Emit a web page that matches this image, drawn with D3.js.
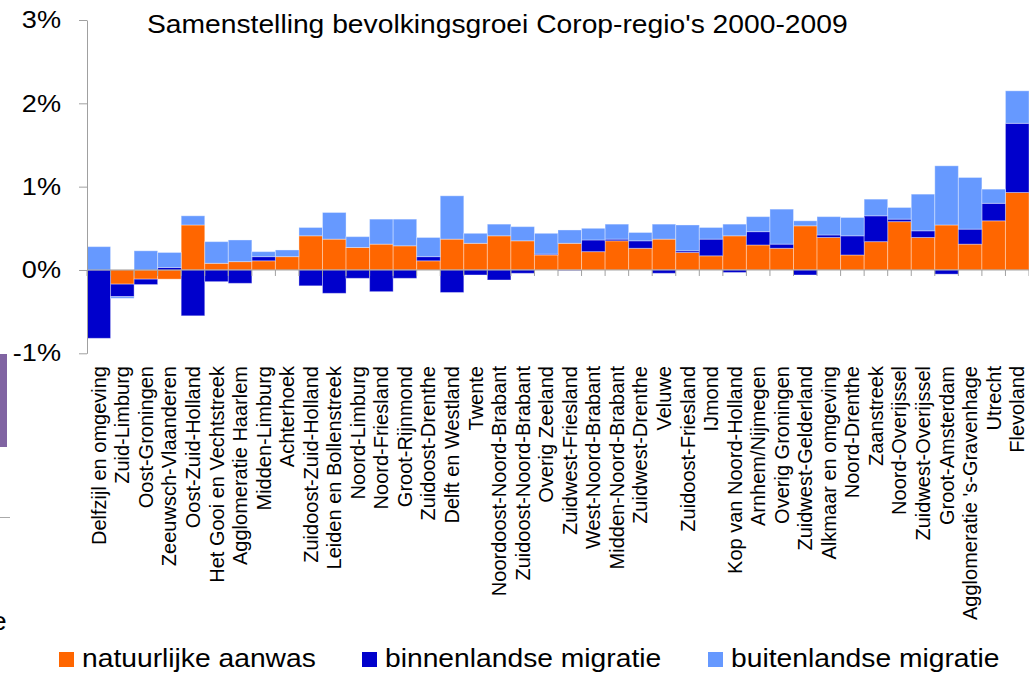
<!DOCTYPE html>
<html>
<head>
<meta charset="utf-8">
<script src="https://cdn.jsdelivr.net/npm/d3@7"></script>
<style>
  body { margin: 0; background: #fff; }
  svg { display: block; font-family: "Liberation Sans", Arial, sans-serif; }
  .axis path, .axis line { stroke: #a0a0a0; }
</style>
</head>
<body>
<div id="chart"></div>
<script>
const regions = [
  "Delfzijl en omgeving", "Zuid-Limburg", "Oost-Groningen", "Zeeuwsch-Vlaanderen",
  "Oost-Zuid-Holland", "Het Gooi en Vechtstreek", "Agglomeratie Haarlem", "Midden-Limburg",
  "Achterhoek", "Zuidoost-Zuid-Holland", "Leiden en Bollenstreek", "Noord-Limburg",
  "Noord-Friesland", "Groot-Rijnmond", "Zuidoost-Drenthe", "Delft en Westland",
  "Twente", "Noordoost-Noord-Brabant", "Zuidoost-Noord-Brabant", "Overig Zeeland",
  "Zuidwest-Friesland", "West-Noord-Brabant", "Midden-Noord-Brabant", "Zuidwest-Drenthe",
  "Veluwe", "Zuidoost-Friesland", "IJmond", "Kop van Noord-Holland",
  "Arnhem/Nijmegen", "Overig Groningen", "Zuidwest-Gelderland", "Alkmaar en omgeving",
  "Noord-Drenthe", "Zaanstreek", "Noord-Overijssel", "Zuidwest-Overijssel",
  "Groot-Amsterdam", "Agglomeratie 's-Gravenhage", "Utrecht", "Flevoland"
];

// percentages per regio
const natuurlijk = [0.00, -0.17, -0.11, -0.11, 0.54, 0.08, 0.10, 0.11, 0.16, 0.41,
  0.37, 0.27, 0.31, 0.29, 0.11, 0.37, 0.32, 0.41, 0.35, 0.18,
  0.32, 0.22, 0.35, 0.26, 0.37, 0.21, 0.17, 0.41, 0.30, 0.26,
  0.53, 0.39, 0.18, 0.34, 0.58, 0.39, 0.54, 0.31, 0.59, 0.93];
const binnenlands = [-0.82, -0.15, -0.065, 0.03, -0.55, -0.14, -0.16, 0.05, 0.00, -0.19,
  -0.28, -0.10, -0.26, -0.10, 0.05, -0.27, -0.06, -0.12, -0.04, 0.01,
  -0.005, 0.14, 0.02, 0.09, -0.04, 0.02, 0.20, -0.03, 0.16, 0.05,
  -0.06, 0.03, 0.23, 0.31, 0.03, 0.08, -0.05, 0.18, 0.21, 0.83];
const buitenlands = [0.28, -0.02, 0.23, 0.18, 0.11, 0.26, 0.26, 0.06, 0.08, 0.10,
  0.32, 0.13, 0.30, 0.32, 0.23, 0.52, 0.12, 0.14, 0.17, 0.25,
  0.16, 0.14, 0.18, 0.10, 0.18, 0.31, 0.14, 0.14, 0.18, 0.42,
  0.06, 0.22, 0.22, 0.20, 0.14, 0.44, 0.71, 0.62, 0.17, 0.39];

const seriesNames = ["natuurlijke aanwas", "binnenlandse migratie", "buitenlandse migratie"];
const yTicks = [-1, 0, 1, 2, 3];

const colors = ["#ff6600", "#0000cc", "#6699ff"];
const stretchX = 1.13;  // horizontal text in the original is a bit wide

const width = 1029, height = 674;
const plot = {left: 87, right: 1029, top: 20, bottom: 353.3};

const svg = d3.select("#chart").append("svg")
  .attr("width", width)
  .attr("height", height);

const rows = regions.map((r, i) => ({
  regio: r,
  [seriesNames[0]]: natuurlijk[i],
  [seriesNames[1]]: binnenlands[i],
  [seriesNames[2]]: buitenlands[i]
}));

const stacked = d3.stack()
  .keys(seriesNames)
  .offset(d3.stackOffsetDiverging)(rows);

const x = d3.scaleBand()
  .domain(regions)
  .range([plot.left, plot.right])
  .padding(0);

const y = d3.scaleLinear()
  .domain([-1, 3])
  .range([plot.bottom, plot.top]);

// leftovers from the slide on the left edge
svg.append("rect")
  .attr("x", 0).attr("y", 354)
  .attr("width", 7).attr("height", 93)
  .attr("fill", "#8064a2");
svg.append("line")
  .attr("x1", 0).attr("x2", 10)
  .attr("y1", 517.5).attr("y2", 517.5)
  .attr("stroke", "#aaa");
svg.append("text")
  .attr("transform", `translate(-9, 630) scale(${stretchX},1)`)
  .attr("font-size", 25)
  .text("e");

// bars
svg.append("g")
  .selectAll("g")
  .data(stacked)
  .join("g")
    .attr("fill", (d, i) => colors[i])
  .selectAll("rect")
  .data(d => d)
  .join("rect")
    .attr("x", d => x(d.data.regio))
    .attr("width", x.bandwidth())
    .attr("y", d => y(Math.max(d[0], d[1])))
    .attr("height", d => Math.abs(y(d[0]) - y(d[1])))
    .attr("stroke", "#fff")
    .attr("stroke-opacity", 0.35)
    .attr("stroke-width", 1);

// y axis
const yAxis = svg.append("g")
  .attr("class", "axis")
  .attr("transform", `translate(${plot.left}, 0)`)
  .call(d3.axisLeft(y)
    .tickValues(yTicks)
    .tickSize(8)
    .tickSizeOuter(0)
    .tickPadding(15)
    .tickFormat(d => d + "%"));
yAxis.selectAll("text")
  .attr("font-size", 24)
  .attr("fill", "#000")
  .attr("transform", `scale(${stretchX},1)`);

// zero line with ticks between the bars
const zero = svg.append("g").attr("class", "axis");
zero.append("line")
  .attr("x1", plot.left).attr("x2", plot.right)
  .attr("y1", y(0)).attr("y2", y(0));
zero.selectAll(".tk")
  .data(d3.range(regions.length + 1))
  .join("line")
    .attr("class", "tk")
    .attr("x1", i => x.range()[0] + i * x.step())
    .attr("x2", i => x.range()[0] + i * x.step())
    .attr("y1", y(0))
    .attr("y2", y(0) + 6);

// category labels
svg.append("g")
  .selectAll("text")
  .data(regions)
  .join("text")
    .attr("transform", d => `translate(${x(d) + x.bandwidth() / 2}, 366) rotate(-90)`)
    .attr("dy", "0.35em")
    .attr("text-anchor", "end")
    .attr("font-size", 20)
    .text(d => d);

// title
svg.append("text")
  .attr("transform", `translate(147, 33) scale(${stretchX},1)`)
  .attr("font-size", 25)
  .text("Samenstelling bevolkingsgroei Corop-regio's 2000-2009");

// legend
const legendX = [59, 362, 708];
const legend = svg.append("g")
  .selectAll("g")
  .data(seriesNames)
  .join("g")
    .attr("transform", (d, i) => `translate(${legendX[i]}, 652)`);
legend.append("rect")
  .attr("width", 15).attr("height", 15)
  .attr("fill", (d, i) => colors[i]);
legend.append("text")
  .attr("transform", `translate(23, 15) scale(${stretchX},1)`)
  .attr("font-size", 25)
  .text(d => d);
</script>
</body>
</html>
